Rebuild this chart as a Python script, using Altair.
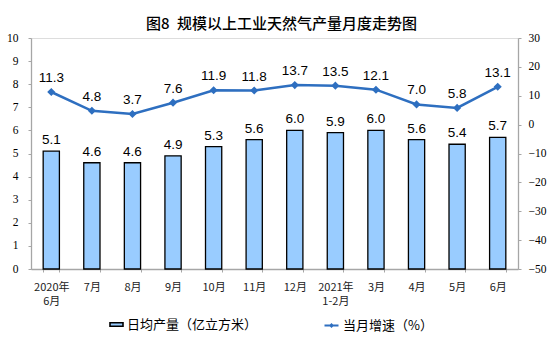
import altair as alt
import pandas as pd

months = ["2020年\n6月", "7月", "8月", "9月", "10月", "11月", "12月",
          "2021年\n1-2月", "3月", "4月", "5月", "6月"]
daily_output = [5.1, 4.6, 4.6, 4.9, 5.3, 5.6, 6.0, 5.9, 6.0, 5.6, 5.4, 5.7]
growth = [11.3, 4.8, 3.7, 7.6, 11.9, 11.8, 13.7, 13.5, 12.1, 7.0, 5.8, 13.1]
left_ticks = [0, 1, 2, 3, 4, 5, 6, 7, 8, 9, 10]
right_ticks = [-50, -40, -30, -20, -10, 0, 10, 20, 30]
bar_name = "日均产量（亿立方米）"
line_name = "当月增速（%）"
title_text = "图8\u2002规模以上工业天然气产量月度走势图"

df = pd.DataFrame({
    "month": months,
    "output": daily_output,
    "growth": growth,
    "bar_series": bar_name,
    "line_series": line_name,
})

CJK = "Noto Sans CJK SC"
LINE_COLOR = "#2E6FC0"
BAR_COLOR = "#99CCFF"
AXIS_GRAY = "#A6A6A6"

x_enc = alt.X(
    "month:N", sort=months, title=None,
    scale=alt.Scale(paddingInner=0.6, paddingOuter=0.3),
    axis=alt.Axis(
        labelExpr="split(datum.label, '\\n')", labelAngle=0,
        labelFont=CJK, labelFontSize=11, labelColor="#222222",
        labelLineHeight=14, labelPadding=9, labelOverlap=False,
        domainColor=AXIS_GRAY, domainWidth=1.3,
        tickBand="extent", tickColor=AXIS_GRAY, tickSize=3,
        grid=False,
    ),
)

y_left = alt.Y(
    "output:Q", title=None,
    scale=alt.Scale(domain=[left_ticks[0], left_ticks[-1]], nice=False, zero=True),
    axis=alt.Axis(
        orient="left", values=left_ticks, tickCount=len(left_ticks), grid=False,
        labelOverlap=False, labelBound=False, labelFlush=False,
        labelFont="Liberation Serif", labelFontSize=11.5, labelColor="#000000",
        labelPadding=10, tickSize=3, tickColor=AXIS_GRAY,
        domainColor=AXIS_GRAY, domainWidth=1.3,
    ),
)

y_right = alt.Y(
    "growth:Q", title=None,
    scale=alt.Scale(domain=[right_ticks[0], right_ticks[-1]], nice=False, zero=False),
    axis=alt.Axis(
        orient="right", values=right_ticks, tickCount=len(right_ticks), grid=False,
        labelOverlap=False, labelBound=False, labelFlush=False,
        labelFont="Liberation Serif", labelFontSize=11.5, labelColor="#000000",
        labelPadding=7, tickSize=3, tickColor=AXIS_GRAY,
        domainColor=AXIS_GRAY, domainWidth=1.3,
    ),
)

bars = alt.Chart(df).mark_bar(stroke="black", strokeWidth=1.3).encode(
    x=x_enc,
    y=y_left,
    color=alt.Color(
        "bar_series:N",
        scale=alt.Scale(domain=[bar_name], range=[BAR_COLOR]),
        legend=alt.Legend(
            title=None, orient="none", legendX=78, legendY=279,
            symbolType="M-1,-0.28H1V0.28H-1Z", symbolSize=169,
            symbolStrokeColor="black", symbolStrokeWidth=1.6,
            symbolOpacity=1, symbolFillColor=BAR_COLOR,
            labelFont=CJK, labelFontSize=13, labelColor="#000000",
            labelOffset=3,
        ),
    ),
)

bar_text = alt.Chart(df).mark_text(
    dy=-11, font="Liberation Sans", fontSize=13.5, color="#000000"
).encode(
    x=x_enc,
    y=y_left,
    text=alt.Text("output:Q", format=".1f"),
)

line = alt.Chart(df).mark_line(
    strokeWidth=2.5,
    point=alt.OverlayMarkDef(shape="diamond", size=28, filled=True, color=LINE_COLOR),
).encode(
    x=x_enc,
    y=y_right,
    stroke=alt.Stroke(
        "line_series:N",
        scale=alt.Scale(domain=[line_name], range=[LINE_COLOR]),
        legend=alt.Legend(
            title=None, orient="none", legendX=292, legendY=279,
            symbolType="M-1,0H1M-0.14,0L0,-0.14L0.14,0L0,0.14Z", symbolSize=196,
            symbolStrokeWidth=2.2, symbolFillColor=LINE_COLOR,
            labelFont=CJK, labelFontSize=13, labelColor="#000000",
            labelOffset=3,
        ),
    ),
)

line_text = alt.Chart(df).mark_text(
    dy=-14, font="Liberation Sans", fontSize=13.5, color="#000000"
).encode(
    x=x_enc,
    y=y_right,
    text=alt.Text("growth:Q", format=".1f"),
)

left_layer = alt.layer(bars, bar_text)
right_layer = alt.layer(line, line_text)

chart = alt.layer(left_layer, right_layer).resolve_scale(
    y="independent", color="independent", stroke="independent"
).properties(
    width=487,
    height=231,
    padding={"left": 31, "top": 38, "right": 36, "bottom": 84},
    autosize=alt.AutoSizeParams(type="none"),
    title=alt.TitleParams(
        text=title_text, font=CJK, fontSize=15, fontWeight=500,
        color="#000000", anchor="middle", offset=0, dx=7,
    ),
).configure_view(stroke=None).configure(background="white")

chart.save("out.html", embed_options={"renderer": "svg", "actions": False})
